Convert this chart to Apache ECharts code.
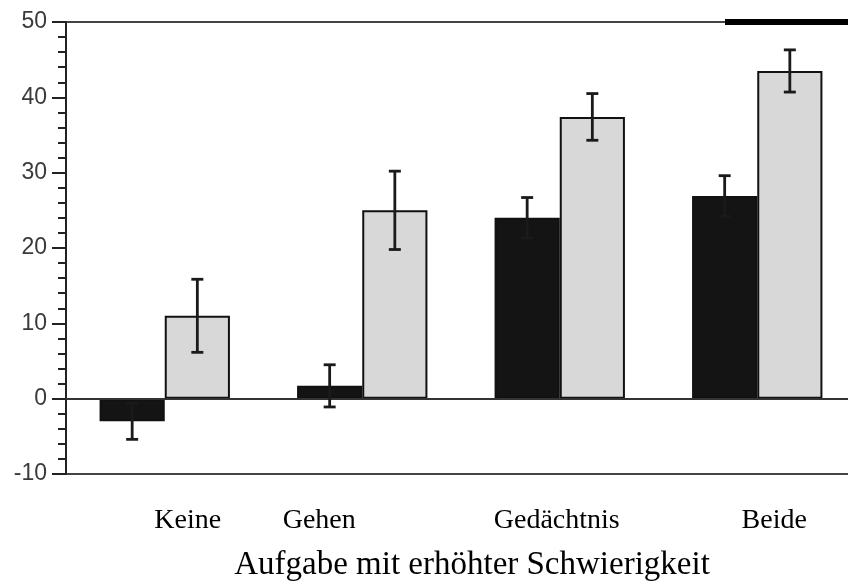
<!DOCTYPE html>
<html>
<head>
<meta charset="utf-8">
<script src="https://cdn.jsdelivr.net/npm/echarts@6/dist/echarts.min.js"></script>
<style>
html,body{margin:0;padding:0;background:#fff;}
#chart{width:848px;height:582px;}
</style>
</head>
<body>
<div id="chart"></div>
<script>
// ---- data ----
var categories = ['Keine', 'Gehen', 'Gedächtnis', 'Beide'];
var darkValues = [-3.0, 1.7, 24.0, 26.9];
var darkErrors = [2.4, 2.8, 2.7, 2.7];
var lightValues = [11.0, 25.0, 37.4, 43.5];
var lightErrors = [4.85, 5.2, 3.1, 2.8];
var yTicks = [-10, 0, 10, 20, 30, 40, 50];
var xTitle = 'Aufgabe mit erhöhter Schwierigkeit';

// ---- chart ----
var chart = echarts.init(document.getElementById('chart'), null, {renderer: 'canvas'});
var CAT_GAP = 0.34;
var labelShift = [46, -86, -6, 34];

function errSeries(values, errors, side) {
  var data = values.map(function (v, i) { return [i, v, errors[i]]; });
  return {
    type: 'custom',
    z: 10,
    data: data,
    renderItem: function (params, api) {
      var i = api.value(0), v = api.value(1), e = api.value(2);
      var band = api.size([1, 0])[0];
      var bw = band * (1 - CAT_GAP) / 2;
      var c = api.coord([i, v]);
      var x = c[0] + side * bw / 2;
      var top = api.coord([i, v + e])[1];
      var bot = api.coord([i, v - e])[1];
      var cap = 6;
      var st = {stroke: '#1a1a1a', lineWidth: 2.8};
      return {
        type: 'group',
        children: [
          {type: 'line', shape: {x1: x, y1: top, x2: x, y2: bot}, style: st},
          {type: 'line', shape: {x1: x - cap, y1: top, x2: x + cap, y2: top}, style: st},
          {type: 'line', shape: {x1: x - cap, y1: bot, x2: x + cap, y2: bot}, style: st}
        ]
      };
    }
  };
}

var rich = {};
labelShift.forEach(function (s, i) {
  rich['c' + i] = {
    fontFamily: 'Liberation Serif', fontSize: 28, color: '#000',
    padding: s >= 0 ? [0, 0, 0, s] : [0, -s, 0, 0]
  };
});

chart.setOption({
  backgroundColor: '#fff',
  animation: false,
  grid: {
    left: 66, right: -8, top: 22, bottom: 108,
    containLabel: false,
    outerBoundsMode: 'none',
    show: true, borderColor: '#444', borderWidth: 2, backgroundColor: 'transparent'
  },
  xAxis: {
    type: 'category',
    data: categories,
    axisLine: {show: false, onZero: false},
    axisTick: {show: false},
    axisLabel: {
      margin: 33,
      formatter: function (v, i) { return '{c' + i + '|' + v + '}'; },
      rich: rich
    },
    name: xTitle,
    nameLocation: 'middle',
    nameGap: 75,
    nameTextStyle: {
      fontFamily: 'Liberation Serif', fontSize: 33, color: '#000',
      padding: [0, 0, 0, 22]
    }
  },
  yAxis: {
    type: 'value',
    min: yTicks[0], max: yTicks[yTicks.length - 1], interval: 10,
    axisLine: {show: true, lineStyle: {color: '#222', width: 2}},
    axisTick: {show: true, inside: false, length: 14, lineStyle: {color: '#222', width: 2}},
    minorTick: {show: true, splitNumber: 5, length: 8, lineStyle: {color: '#222', width: 2}},
    splitLine: {show: false},
    axisLabel: {
      margin: 19, fontFamily: 'Liberation Sans', fontSize: 23, color: '#3a3a3a'
    }
  },
  series: [
    {
      type: 'bar',
      data: darkValues,
      barGap: '0%',
      barCategoryGap: (CAT_GAP * 100) + '%',
      itemStyle: {color: '#141414', borderColor: '#111', borderWidth: 2},
      markLine: {
        silent: true, symbol: 'none', label: {show: false},
        lineStyle: {color: '#333', width: 2, type: 'solid'},
        data: [{yAxis: 0}]
      }
    },
    {
      type: 'bar',
      data: lightValues,
      barGap: '0%',
      barCategoryGap: (CAT_GAP * 100) + '%',
      itemStyle: {color: '#d8d8d8', borderColor: '#111', borderWidth: 2}
    },
    errSeries(darkValues, darkErrors, -1),
    errSeries(lightValues, lightErrors, 1)
  ],
  graphic: [
    {type: 'rect', shape: {x: 725, y: 19, width: 130, height: 6}, style: {fill: '#000'}, z: 100}
  ]
});
</script>
</body>
</html>
